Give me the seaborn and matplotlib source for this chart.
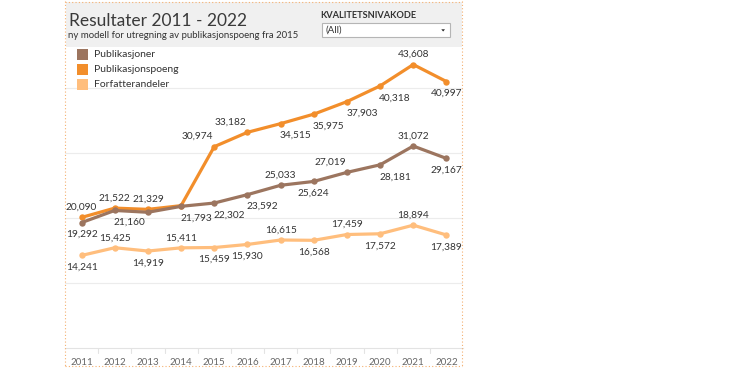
import matplotlib
matplotlib.use("Agg")
import matplotlib.pyplot as plt
from matplotlib.patches import Rectangle, Polygon
from matplotlib.lines import Line2D
import seaborn as sns
import pandas as pd

# ---- data ----
years = [2011, 2012, 2013, 2014, 2015, 2016, 2017, 2018, 2019, 2020, 2021, 2022]
publikasjoner = [19292, 21160, 20880, 21793, 22302, 23592, 25033, 25624, 27019, 28181, 31072, 29167]
publikasjonspoeng = [20090, 21522, 21329, 21900, 30974, 33182, 34515, 35975, 37903, 40318, 43608, 40997]
forfatterandeler = [14241, 15425, 14919, 15411, 15459, 15930, 16615, 16568, 17459, 17572, 18894, 17389]
series_names = ["Publikasjoner", "Publikasjonspoeng", "Forfatterandeler"]
title = "Resultater 2011 - 2022"
subtitle = "ny modell for utregning av publikasjonspoeng fra 2015"
filter_title = "KVALITETSNIVAKODE"
filter_value = "(All)"

# ---- style ----
colors = {"Publikasjoner": "#9c755f", "Publikasjonspoeng": "#f28e2b", "Forfatterandeler": "#ffbe7d"}
# label placement codes: a=above, b=below, br=below-right, al=above-left, ''=none
placement = {
    "Publikasjonspoeng": ['a', 'a', 'a', '', 'al', 'al', 'br', 'br', 'br', 'br', 'a', 'b'],
    "Publikasjoner": ['b', 'br', '', 'br', 'br', 'br', 'a', 'b', 'al', 'br', 'a', 'b'],
    "Forfatterandeler": ['b', 'a', 'b', 'a', 'b', 'b', 'a', 'b', 'a', 'b', 'a', 'b'],
}
offsets = {'a': (0, 10), 'b': (0, -12), 'br': (15, -12), 'al': (-17, 10.5)}

sns.set_theme(style="white")
plt.rcParams['font.family'] = ['Lato', 'DejaVu Sans']

W, H = 746, 368
fig = plt.figure(figsize=(W / 100, H / 100), dpi=100)
fig.patch.set_facecolor("white")

def fx(x):
    return x / W

def fy(y):
    return 1 - y / H

# header background
fig.add_artist(Rectangle((fx(65.5), fy(47)), 396 / W, 45 / H, transform=fig.transFigure,
                         facecolor="#f0f0f0", edgecolor="none", zorder=0))

ax = fig.add_axes([fx(65), fy(348), (463 - 65) / W, (348 - 47) / H])
ax.set_facecolor("white")

data = pd.DataFrame({
    "year": years * 3,
    "value": publikasjoner + publikasjonspoeng + forfatterandeler,
    "serie": sum([[n] * len(years) for n in series_names], []),
})

for name in ["Forfatterandeler", "Publikasjonspoeng", "Publikasjoner"]:
    sub = data[data["serie"] == name]
    sns.lineplot(data=sub, x="year", y="value", color=colors[name], lw=2.3,
                 marker="o", markersize=4.6, markeredgewidth=0, ax=ax, legend=False,
                 zorder=3)
    for yr, v, code in zip(sub["year"], sub["value"], placement[name]):
        if not code:
            continue
        dx, dy = offsets[code]
        ax.annotate(f"{v:,}", (yr, v), xytext=(dx, dy), textcoords="offset pixels",
                    ha="center", va="center", fontsize=7.3, color="#333333", zorder=5)

ax.set_xlim(years[0] - 0.5, years[-1] + 0.5)
ax.set_ylim(0, 301 / 0.0065)
ax.set_yticks([10000, 20000, 30000, 40000])
ax.yaxis.grid(True, color="#ececec", lw=0.8)
ax.set_axisbelow(True)
ax.tick_params(left=False, labelleft=False, bottom=False)
ax.set_xticks(years)
ax.set_xticklabels([str(y) for y in years], fontsize=7, color="#666666")
ax.tick_params(axis="x", pad=1.5)
ax.set_xlabel("")
ax.set_ylabel("")
for s in ["top", "left", "right"]:
    ax.spines[s].set_visible(False)
ax.spines["bottom"].set_color("#e3e3e3")
ax.spines["bottom"].set_linewidth(0.8)
trans = ax.get_xaxis_transform()
for yr in years[:-1]:
    ax.plot([yr + 0.5, yr + 0.5], [0, -5 / 301], transform=trans, color="#e3e3e3",
            lw=0.8, clip_on=False)

# titles
fig.text(fx(69), fy(26), title, fontsize=12.5, color="#3a3a3a", ha="left", va="baseline")
fig.text(fx(68.5), fy(37.5), subtitle, fontsize=6.9, color="#333333", ha="left", va="baseline")
fig.text(fx(320.7), fy(18.3), filter_title, fontsize=6.7, fontweight="bold", color="#333333",
         ha="left", va="baseline")
fig.add_artist(Rectangle((fx(321.7), fy(36.7)), (450 - 321.7) / W, 14 / H, transform=fig.transFigure,
                         facecolor="white", edgecolor="#b5b5b5", lw=0.8, zorder=2))
fig.text(fx(325), fy(30.3), filter_value, fontsize=7, color="#333333", ha="left", va="center", zorder=3)
fig.add_artist(Polygon([(fx(441.3), fy(29.3)), (fx(445), fy(29.3)), (fx(443.15), fy(31.5))],
                       closed=True, transform=fig.transFigure, facecolor="#222222",
                       edgecolor="none", zorder=3))

# legend
for i, name in enumerate(series_names):
    cy = 54.7 + 15 * i
    fig.add_artist(Rectangle((fx(77), fy(cy + 5.3)), 11 / W, 10.6 / H, transform=fig.transFigure,
                             facecolor=colors[name], edgecolor="none", zorder=4))
    fig.text(fx(93.7), fy(cy), name, fontsize=7.5, color="#333333", ha="left", va="center", zorder=4)

# dotted border
bc = "#f5b070"
for xs, ys in [([64.5, 64.5], [1, 366]), ([462, 462], [1, 366]),
               ([64.5, 462], [1.5, 1.5]), ([64.5, 462], [365.5, 365.5])]:
    fig.add_artist(Line2D([fx(x) for x in xs], [fy(y) for y in ys], transform=fig.transFigure,
                          color=bc, lw=0.8, linestyle=(0, (1, 2)), zorder=6))

fig.savefig("out.png", dpi=100)
